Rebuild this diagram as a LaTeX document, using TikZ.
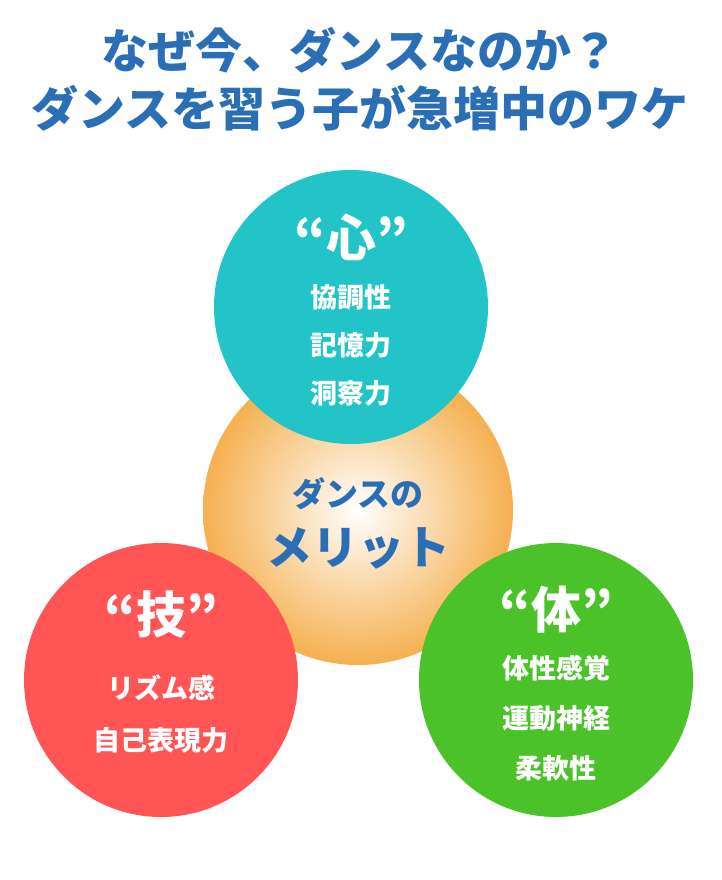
\documentclass[tikz,border=0pt]{standalone}
\usepackage{fontspec}
\newfontfamily\cjk{Noto Sans CJK JP}[BoldFont={* Black}]
\definecolor{tblue}{HTML}{2A6FB5}
\definecolor{teal}{HTML}{22C4C8}
\definecolor{cred}{HTML}{FF5555}
\definecolor{cgreen}{HTML}{4CC22A}
\definecolor{corange}{HTML}{F5B050}
\begin{document}
\begin{tikzpicture}[x=1pt,y=-1pt,
  txt/.style={font=\cjk\bfseries\fontsize{27}{30}\selectfont,text=white},
  big/.style={font=\cjk\bfseries\fontsize{50}{54}\selectfont,text=white},
  ttl/.style={font=\cjk\bfseries\fontsize{47}{50}\selectfont,text=tblue}]
\useasboundingbox (0,0) rectangle (721,880);
\node[ttl] (t1) at (360,50) {なぜ今、ダンスなのか？};
\node[ttl] (t2) at (360,108) {ダンスを習う子が急増中のワケ};
\shade[inner color=white,outer color=corange] (358,510) circle (155);
\node[circle,minimum size=310pt] (c) at (358,510) {};
\node[font=\cjk\bfseries\fontsize{33}{36}\selectfont,text=tblue] (c1) at (358,494) {ダンスの};
\node[font=\cjk\bfseries\fontsize{46}{50}\selectfont,text=tblue] (c2) at (358,548) {メリット};
\fill[teal] (351,307) circle (137);
\fill[cred] (161,680) circle (137);
\fill[cgreen] (556,680) circle (137);
\node[big] (h1) at (351,237) {“心”};
\node[txt] (a1) at (351,297) {協調性};
\node[txt] (a2) at (351,345) {記憶力};
\node[txt] (a3) at (351,393) {洞察力};
\node[big] (h2) at (161,615) {“技”};
\node[txt] (b1) at (161,688) {リズム感};
\node[txt] (b2) at (161,740) {自己表現力};
\node[big] (h3) at (556,610) {“体”};
\node[txt] (g1) at (556,668) {体性感覚};
\node[txt] (g2) at (556,718) {運動神経};
\node[txt] (g3) at (556,768) {柔軟性};
\end{tikzpicture}
\end{document}
